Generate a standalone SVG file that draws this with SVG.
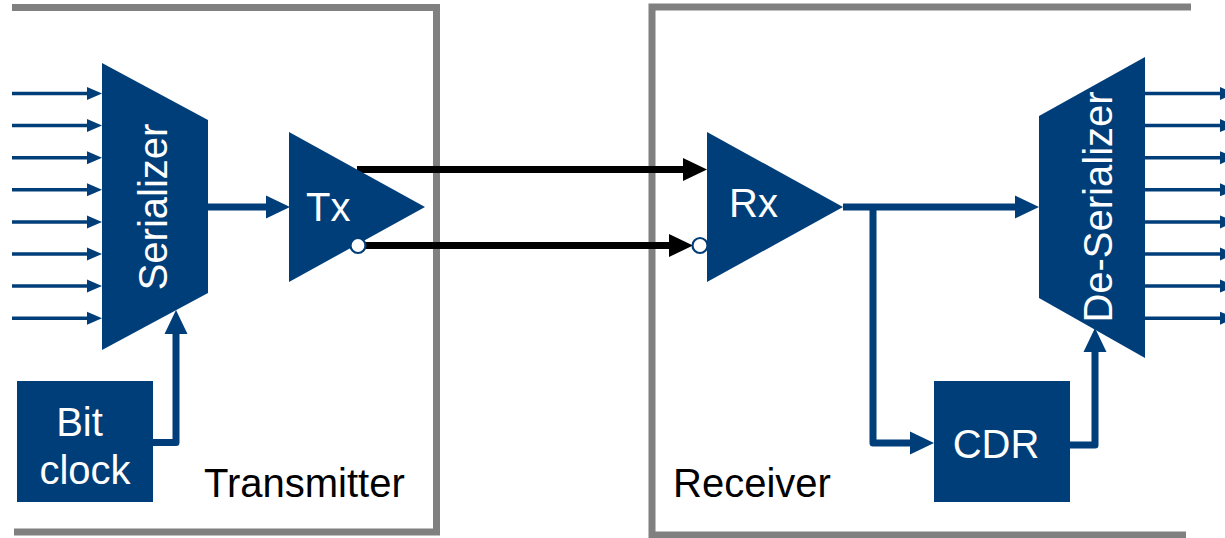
<svg xmlns="http://www.w3.org/2000/svg" width="1225" height="538" viewBox="0 0 1225 538">
  <style>
    .frame { fill: none; stroke: #808080; stroke-width: 7; stroke-linejoin: miter; }
    .blk { fill: #003e79; }
    .wt { fill: #ffffff; font-family: "Liberation Sans", Arial, sans-serif; font-size: 40px; }
    .lbl { fill: #000000; font-family: "Liberation Sans", Arial, sans-serif; font-size: 40px; }
    .thin { fill: none; stroke: #003e79; stroke-width: 3.5; }
    .thick { fill: none; stroke: #003e79; stroke-width: 7; stroke-linejoin: round; }
    .wire { fill: none; stroke: #000000; stroke-width: 7; }
    .bub { fill: #ffffff; stroke: #003e79; stroke-width: 2.2; }
  </style>
  <defs>
    <marker id="aThin" markerUnits="userSpaceOnUse" markerWidth="20" markerHeight="20" refX="0" refY="7" orient="auto" overflow="visible">
      <polygon points="0,0.5 15,7 0,13.5" fill="#003e79"/>
    </marker>
    <marker id="aBlue" markerUnits="userSpaceOnUse" markerWidth="30" markerHeight="30" refX="0" refY="12" orient="auto" overflow="visible">
      <polygon points="0,0.5 24,12 0,23.5" fill="#003e79"/>
    </marker>
    <marker id="aBlack" markerUnits="userSpaceOnUse" markerWidth="30" markerHeight="30" refX="0" refY="12" orient="auto" overflow="visible">
      <polygon points="0,0.5 24,12 0,23.5" fill="#000000"/>
    </marker>
  </defs>

  <g id="transmitter-frame">
    <path class="frame" d="M12,7.5 H436.5 V532 H14"/>
    <text class="lbl" x="204" y="497">Transmitter</text>
  </g>
  <g id="receiver-frame">
    <path class="frame" d="M1191,7 H652 V535 H1186"/>
    <text class="lbl" x="673" y="497">Receiver</text>
  </g>

  <g id="connectors">
    <path class="thin" d="M12,93.5 H87" marker-end="url(#aThin)"/>
    <path class="thin" d="M12,125.6 H87" marker-end="url(#aThin)"/>
    <path class="thin" d="M12,157.7 H87" marker-end="url(#aThin)"/>
    <path class="thin" d="M12,189.8 H87" marker-end="url(#aThin)"/>
    <path class="thin" d="M12,221.9 H87" marker-end="url(#aThin)"/>
    <path class="thin" d="M12,254 H87" marker-end="url(#aThin)"/>
    <path class="thin" d="M12,286.1 H87" marker-end="url(#aThin)"/>
    <path class="thin" d="M12,318.2 H87" marker-end="url(#aThin)"/>

    <path class="thin" d="M1145,93.5 H1220" marker-end="url(#aThin)"/>
    <path class="thin" d="M1145,125.6 H1220" marker-end="url(#aThin)"/>
    <path class="thin" d="M1145,157.7 H1220" marker-end="url(#aThin)"/>
    <path class="thin" d="M1145,189.8 H1220" marker-end="url(#aThin)"/>
    <path class="thin" d="M1145,221.9 H1220" marker-end="url(#aThin)"/>
    <path class="thin" d="M1145,254 H1220" marker-end="url(#aThin)"/>
    <path class="thin" d="M1145,286.1 H1220" marker-end="url(#aThin)"/>
    <path class="thin" d="M1145,318.2 H1220" marker-end="url(#aThin)"/>

    <path class="thick" d="M208,207 H266" marker-end="url(#aBlue)"/>
    <path class="thick" d="M153,442.5 H176 V334" marker-end="url(#aBlue)"/>

    <path class="wire" d="M357,169.5 H683" marker-end="url(#aBlack)"/>
    <path class="wire" d="M364,245.5 H669" marker-end="url(#aBlack)"/>

    <path class="thick" d="M843,207 H1015" marker-end="url(#aBlue)"/>
    <path class="thick" d="M873,207 V443 H910" marker-end="url(#aBlue)"/>
    <path class="thick" d="M1070,445 H1095 V352" marker-end="url(#aBlue)"/>
  </g>

  <g id="serializer">
    <polygon class="blk" points="102,63 208,120 208,293 102,350"/>
    <text class="wt" transform="translate(167,207) rotate(-90)" text-anchor="middle">Serializer</text>
  </g>

  <g id="bit-clock">
    <rect class="blk" x="17" y="381" width="136" height="121"/>
    <text class="wt" x="79.5" y="436" text-anchor="middle">Bit</text>
    <text class="wt" x="85" y="484" text-anchor="middle">clock</text>
  </g>

  <g id="tx">
    <polygon class="blk" points="289,132 425,207 289,282"/>
    <text class="wt" x="306" y="221">Tx</text>
    <circle class="bub" cx="358" cy="245.5" r="7.5"/>
  </g>

  <g id="rx">
    <polygon class="blk" points="707,132 843,207 707,282"/>
    <text class="wt" x="729" y="217">Rx</text>
    <circle class="bub" cx="700" cy="245.5" r="7.5"/>
  </g>

  <g id="de-serializer">
    <polygon class="blk" points="1039,116 1145,57 1145,358 1039,298"/>
    <text class="wt" transform="translate(1112,207) rotate(-90)" text-anchor="middle">De-Serializer</text>
  </g>

  <g id="cdr">
    <rect class="blk" x="934" y="381" width="136" height="121"/>
    <text class="wt" x="996" y="458" text-anchor="middle">CDR</text>
  </g>
</svg>
